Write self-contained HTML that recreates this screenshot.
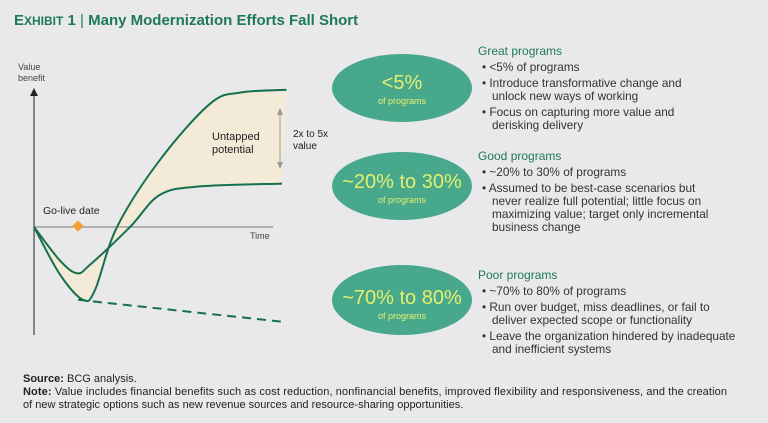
<!DOCTYPE html>
<html><head><meta charset="utf-8"><style>
body{margin:0;background:#e9e9eb;}
svg{display:block;font-family:"Liberation Sans",sans-serif;}
</style></head><body>
<svg width="768" height="423" viewBox="0 0 768 423">
<rect width="768" height="423" fill="#e9e9eb"/>
<text x="14" y="25" font-size="15" font-weight="bold" fill="#1d7a55">E<tspan font-size="12">XHIBIT</tspan> 1 <tspan font-weight="normal">|</tspan> Many Modernization Efforts Fall Short</text>
<g id="chart">
<path id="fill" fill="#f3ead8"/>
<line x1="34" y1="335" x2="34" y2="92" stroke="#222" stroke-width="1"/>
<path d="M30,96 L34,88 L38,96 Z" fill="#222"/>
<line x1="34" y1="227" x2="273" y2="227" stroke="#777" stroke-width="1"/>
<text x="18" y="70" font-size="9" fill="#444">Value</text>
<text x="18" y="81" font-size="9" fill="#444">benefit</text>
<text x="250" y="239" font-size="9" fill="#444">Time</text>
<text x="43" y="214" font-size="10.5" fill="#222">Go-live date</text>
<rect x="74" y="222" width="8" height="8" fill="#f3a030" transform="rotate(45 78 226)"/>
<path id="great" fill="none" stroke="#17704d" stroke-width="2"/>
<path id="good" fill="none" stroke="#17704d" stroke-width="2"/>
<path id="poor" fill="none" stroke="#17704d" stroke-width="2" stroke-dasharray="9,6"/>
<line x1="280" y1="110" x2="280" y2="167" stroke="#999" stroke-width="1"/>
<path d="M277,115 L280,108 L283,115 Z M277,162 L280,169 L283,162 Z" fill="#999"/>
<text x="212" y="140" font-size="11" fill="#222">Untapped</text>
<text x="212" y="153" font-size="11" fill="#222">potential</text>
<text x="293" y="137" font-size="10" fill="#222">2x to 5x</text>
<text x="293" y="149" font-size="10" fill="#222">value</text>
</g>
<g>
<ellipse cx="402" cy="88" rx="70" ry="34" fill="#48a88c"/>
<text x="402" y="89" font-size="20" fill="#e5ef6e" text-anchor="middle">&lt;5%</text>
<text x="402" y="104" font-size="9" fill="#e5ef6e" text-anchor="middle">of programs</text>
</g>
<g>
<ellipse cx="402" cy="186" rx="70" ry="34" fill="#48a88c"/>
<text x="402" y="188" font-size="20" fill="#e5ef6e" text-anchor="middle">~20% to 30%</text>
<text x="402" y="203" font-size="9" fill="#e5ef6e" text-anchor="middle">of programs</text>
</g>
<g>
<ellipse cx="402" cy="300" rx="70" ry="35" fill="#48a88c"/>
<text x="402" y="304" font-size="20" fill="#e5ef6e" text-anchor="middle">~70% to 80%</text>
<text x="402" y="319" font-size="9" fill="#e5ef6e" text-anchor="middle">of programs</text>
</g>
<g font-size="11.8" fill="#333">
<text x="478" y="55" fill="#1d7a55" font-size="12">Great programs</text>
<text x="482" y="71">• &lt;5% of programs</text>
<text x="482" y="87">• Introduce transformative change and</text>
<text x="492" y="100">unlock new ways of working</text>
<text x="482" y="116">• Focus on capturing more value and</text>
<text x="492" y="129">derisking delivery</text>
</g>
<g font-size="11.8" fill="#333">
<text x="478" y="160" fill="#1d7a55" font-size="12">Good programs</text>
<text x="482" y="176">• ~20% to 30% of programs</text>
<text x="482" y="192">• Assumed to be best-case scenarios but</text>
<text x="492" y="205">never realize full potential; little focus on</text>
<text x="492" y="218">maximizing value; target only incremental</text>
<text x="492" y="231">business change</text>
</g>
<g font-size="11.8" fill="#333">
<text x="478" y="279" fill="#1d7a55" font-size="12">Poor programs</text>
<text x="482" y="295">• ~70% to 80% of programs</text>
<text x="482" y="311">• Run over budget, miss deadlines, or fail to</text>
<text x="492" y="324">deliver expected scope or functionality</text>
<text x="482" y="340">• Leave the organization hindered by inadequate</text>
<text x="492" y="353">and inefficient systems</text>
</g>
<g font-size="11" fill="#222">
<text x="23" y="382"><tspan font-weight="bold">Source:</tspan> BCG analysis.</text>
<text x="23" y="395" textLength="704" lengthAdjust="spacing"><tspan font-weight="bold">Note:</tspan> Value includes financial benefits such as cost reduction, nonfinancial benefits, improved flexibility and responsiveness, and the creation</text>
<text x="23" y="408">of new strategic options such as new revenue sources and resource-sharing opportunities.</text>
</g>
</svg>
<script>
const greatT=[0,10.4,19.6,24.4,33.2,50.4,70.4,82.4,101];
const greatV=[0,-34,-52,-45,0,48,88,96,98];
const goodT=[0,10.4,17.2,22.4,38.4,50.4,66.4,99.2];
const goodV=[0,-24,-33,-27,0,23,29,31];
const poorT=[17.6,101];
const poorV=[-52,-68];
function sx(t){return 34+t*2.5;}
function sy(v){return 227-v*1.4;}
function pts(T,V){return T.map((t,i)=>[sx(t),sy(V[i])]);}
function smooth(p){
  let d='M'+p[0][0]+','+p[0][1];
  for(let i=0;i<p.length-1;i++){
    const p0=p[Math.max(0,i-1)],p1=p[i],p2=p[i+1],p3=p[Math.min(p.length-1,i+2)];
    const c1=[p1[0]+(p2[0]-p0[0])/6,p1[1]+(p2[1]-p0[1])/6];
    const c2=[p2[0]-(p3[0]-p1[0])/6,p2[1]-(p3[1]-p1[1])/6];
    d+=' C'+c1[0]+','+c1[1]+' '+c2[0]+','+c2[1]+' '+p2[0]+','+p2[1];
  }
  return d;
}
const gp=pts(greatT,greatV), dp=pts(goodT,goodV), pp=pts(poorT,poorV);
document.getElementById('great').setAttribute('d',smooth(gp));
document.getElementById('good').setAttribute('d',smooth(dp));
document.getElementById('poor').setAttribute('d','M'+pp[0][0]+','+pp[0][1]+' L'+pp[1][0]+','+pp[1][1]);
const rev=dp.slice().reverse();
let fd=smooth(gp)+' L'+rev[0][0]+','+rev[0][1]+' '+smooth(rev).slice(1)+' Z';
document.getElementById('fill').setAttribute('d',fd);
</script>
</body></html>
